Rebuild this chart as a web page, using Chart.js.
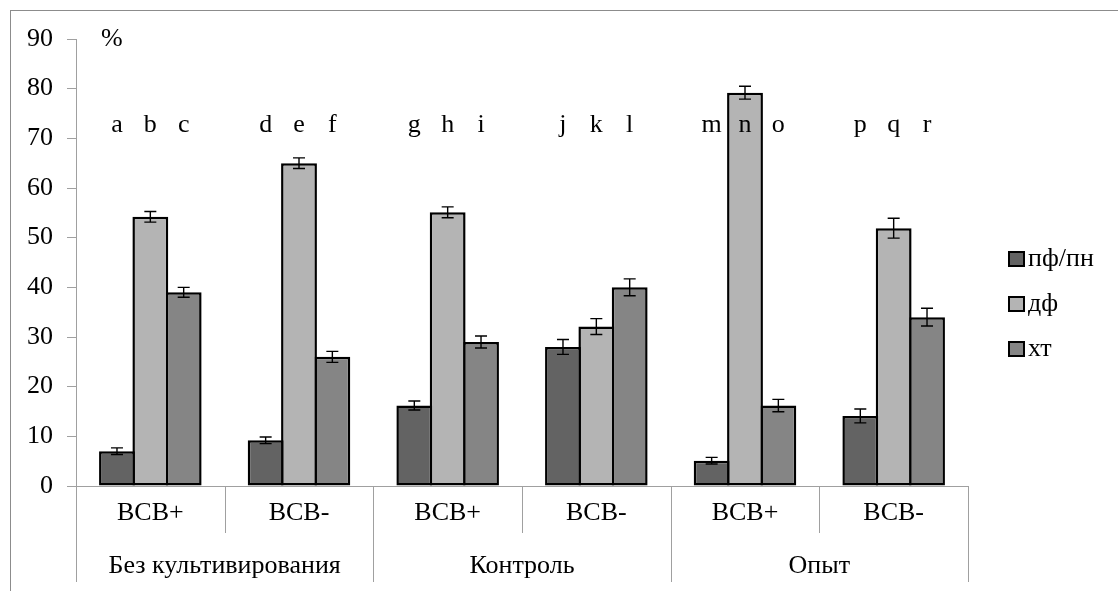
<!DOCTYPE html>
<html>
<head>
<meta charset="utf-8">
<script src="https://cdn.jsdelivr.net/npm/chart.js@4"></script>
<style>
  body { margin: 0; background: #fff; }
  canvas { display: block; }
</style>
</head>
<body>
<canvas id="barChart" width="1118" height="591"></canvas>
<script>
const categories = ['ВСВ+', 'ВСВ-', 'ВСВ+', 'ВСВ-', 'ВСВ+', 'ВСВ-'];
const groups = ['Без культивирования', 'Контроль', 'Опыт'];
const seriesNames = ['пф/пн', 'дф', 'хт'];
const seriesColors = ['#636363', '#b4b4b4', '#858585'];

const pfValues = [7, 9.2, 16.2, 28, 5.1, 14.1];
const dfValues = [54.2, 65, 55.1, 32.1, 79.2, 51.9];
const xtValues = [39, 26, 29, 40, 16.2, 34];

const pfErrors = [0.67, 0.67, 0.9, 1.5, 0.67, 1.4];
const dfErrors = [1.07, 1.07, 1.1, 1.6, 1.3, 2.0];
const xtErrors = [1.0, 1.1, 1.2, 1.7, 1.25, 1.8];

// letters over the bars, one per bar (series order within each category)
const pfLetters = ['a', 'd', 'g', 'j', 'm', 'p'];
const dfLetters = ['b', 'e', 'h', 'k', 'n', 'q'];
const xtLetters = ['c', 'f', 'i', 'l', 'o', 'r'];
const letterLevel = 72.7;

const yTicks = [0, 10, 20, 30, 40, 50, 60, 70, 80, 90];

const allValues = [pfValues, dfValues, xtValues];
const allErrors = [pfErrors, dfErrors, xtErrors];
const allLetters = [pfLetters, dfLetters, xtLetters];

const serif = '"Liberation Serif", "Times New Roman", serif';
const axisGray = '#a0a0a0';

const overlay = {
    id: 'overlay',
    beforeDraw(chart) {
        const c = chart.ctx;
        c.save();
        c.fillStyle = '#fff';
        c.fillRect(0, 0, chart.width, chart.height);
        c.strokeStyle = '#8c8c8c';
        c.lineWidth = 1;
        c.strokeRect(10.5, 10.5, chart.width + 20, chart.height + 20);
        c.restore();
    },
    afterDatasetsDraw(chart) {
        const c = chart.ctx;
        const y = chart.scales.y;
        c.save();
        c.strokeStyle = '#000';
        c.lineWidth = 1.4;
        c.fillStyle = '#000';
        c.font = '26px ' + serif;
        c.textAlign = 'center';
        c.textBaseline = 'middle';
        allValues.forEach((vals, d) => {
            const meta = chart.getDatasetMeta(d);
            meta.data.forEach((bar, i) => {
                const x = bar.x;
                const top = y.getPixelForValue(vals[i] + allErrors[d][i]);
                const bot = y.getPixelForValue(vals[i] - allErrors[d][i]);
                c.beginPath();
                c.moveTo(x, top); c.lineTo(x, bot);
                c.moveTo(x - 6, top); c.lineTo(x + 6, top);
                c.moveTo(x - 6, bot); c.lineTo(x + 6, bot);
                c.stroke();
                c.fillText(allLetters[d][i], x, y.getPixelForValue(letterLevel));
            });
        });
        c.restore();
    },
    afterDraw(chart) {
        const c = chart.ctx;
        const xs = chart.scales.x;
        const ys = chart.scales.y;
        const n = categories.length;
        const w = (xs.right - xs.left) / n;
        const base = ys.getPixelForValue(0);
        c.save();

        // category dividers
        c.strokeStyle = axisGray;
        c.lineWidth = 1;
        for (let k = 0; k <= n; k++) {
            const x = Math.round(xs.left + k * w) + 0.5;
            c.beginPath();
            c.moveTo(x, base);
            c.lineTo(x, k % 2 === 0 ? base + 96 : base + 47);
            c.stroke();
        }

        c.fillStyle = '#000';
        c.textAlign = 'center';
        c.textBaseline = 'middle';
        c.font = '26px ' + serif;
        categories.forEach((lab, i) => {
            c.fillText(lab, xs.getPixelForValue(i), base + 27);
        });
        groups.forEach((g, j) => {
            c.fillText(g, xs.left + (2 * j + 1) * w, base + 80);
        });

        // percent sign
        c.textAlign = 'left';
        c.font = '26px ' + serif;
        c.fillText('%', xs.left + 25, ys.getPixelForValue(90));

        // legend
        c.font = '26px ' + serif;
        seriesNames.forEach((name, d) => {
            const ly = 259 + d * 45;
            c.fillStyle = seriesColors[d];
            c.fillRect(1009, ly - 7, 15, 14);
            c.strokeStyle = '#000';
            c.lineWidth = 2;
            c.strokeRect(1009, ly - 7, 15, 14);
            c.fillStyle = '#000';
            c.fillText(name, 1028, ly);
        });
        c.restore();
    }
};

new Chart(document.getElementById('barChart'), {
    type: 'bar',
    data: {
        labels: categories,
        datasets: seriesNames.map((name, d) => ({
            label: name,
            data: allValues[d],
            backgroundColor: seriesColors[d],
            borderColor: '#000',
            borderWidth: 2.5,
            borderSkipped: false,
            categoryPercentage: 0.673,
            barPercentage: 1.075
        }))
    },
    options: {
        responsive: false,
        animation: false,
        devicePixelRatio: 1,
        layout: { padding: { top: 39, right: 150, bottom: 105, left: 0 } },
        plugins: {
            legend: { display: false },
            tooltip: { enabled: false }
        },
        scales: {
            x: {
                offset: true,
                ticks: { display: false },
                grid: { display: false },
                border: { color: axisGray, width: 1 },
                afterFit(scale) { scale.height = 0; }
            },
            y: {
                min: 0,
                max: 90,
                afterBuildTicks(scale) { scale.ticks = yTicks.map(v => ({ value: v })); },
                ticks: {
                    color: '#000',
                    padding: 14,
                    font: { family: serif, size: 26 }
                },
                grid: {
                    drawOnChartArea: false,
                    tickLength: 9,
                    color: axisGray
                },
                border: { color: axisGray, width: 1 },
                afterFit(scale) { scale.width = 76; }
            }
        }
    },
    plugins: [overlay]
});
</script>
</body>
</html>
